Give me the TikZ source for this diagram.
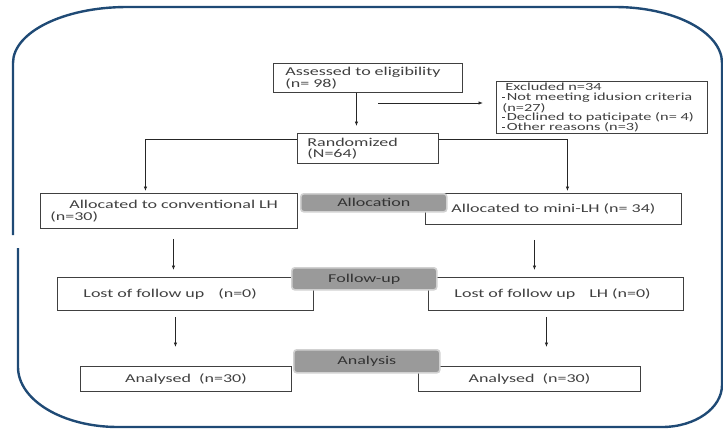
\documentclass[tikz,border=0pt]{standalone}
\usepackage{fontspec}
\usetikzlibrary{arrows.meta,positioning}
\newfontfamily\flowfont{Carlito}[FakeStretch=1.5]
\definecolor{frameblue}{HTML}{1F4A75}
\definecolor{boxgrey}{HTML}{404040}
\definecolor{taggrey}{HTML}{9A9A9A}
\newcommand{\exbul}{\raisebox{0.45ex}{\rule{2.5pt}{1.2pt}}\,}

\begin{document}
\begin{tikzpicture}[
    x=1pt, y=-1pt,
    flowbox/.style={draw=boxgrey, line width=0.9pt, anchor=north west, font=\flowfont\fontsize{12}{11.5}\selectfont, text=black!75, align=left, inner ysep=0pt},
    tagbox/.style={draw=black!18, line width=1.6pt, fill=taggrey, rounded corners=3pt, anchor=north west, font=\flowfont\fontsize{12}{12}\selectfont, text=black!80, inner sep=0pt},
    arrow/.style={-{Latex[length=4.5pt,width=3.5pt]}, line width=0.8pt, black!85},
    frame/.style={draw=frameblue, line width=2.4pt}
    ]
  \useasboundingbox (0,0) rectangle (723,429);
  \draw[frame] (13,235) -- (13,63) arc[start angle=180, end angle=270, x radius=114, y radius=56]
    -- (615,7) arc[start angle=270, end angle=360, x radius=107, y radius=56]
    -- (722,385) arc[start angle=0, end angle=90, x radius=60, y radius=42]
    -- (118,427) arc[start angle=90, end angle=180, x radius=100, y radius=60] -- (18,248);

  \node[flowbox, minimum width=189pt, minimum height=29pt, text width=165pt, inner xsep=12pt] (assess) at (273,63) {Assessed to eligibility\\(n= 98)};
  \node[flowbox, font=\flowfont\fontsize{10.9}{9.8}\selectfont, minimum width=211pt, minimum height=52pt, text width=199pt, inner xsep=6pt] (excl) at (496,81)
    {\hspace*{3pt}Excluded n=34\\\exbul Not meeting idusion criteria\\(n=27)\\\exbul Declined to paticipate (n= 4)\\\exbul Other reasons (n=3)};
  \node[flowbox, minimum width=141pt, minimum height=30pt, text width=121pt, inner xsep=10pt] (rand) at (297,133) {Randomized\\(N=64)};
  \node[flowbox, minimum width=257pt, minimum height=35pt, text width=237pt, inner xsep=10pt] (allocL) at (40,193) {\hspace*{19pt}Allocated to conventional LH\\(n=30)};
  \node[flowbox, align=center, minimum width=256pt, minimum height=31pt] (allocR) at (425,193) {Allocated to mini-LH (n= 34)};
  \node[flowbox, minimum width=256pt, minimum height=33pt, text width=204pt, inner xsep=26pt] (lostL) at (57,277) {Lost of follow up\hspace{10pt} (n=0)};
  \node[flowbox, minimum width=255pt, minimum height=33pt, text width=203pt, inner xsep=26pt] (lostR) at (428,277) {Lost of follow up\hspace{10pt} LH (n=0)};
  \node[flowbox, align=center, minimum width=211pt, minimum height=25pt] (anaL) at (80,366) {Analysed\hspace{4pt} (n=30)};
  \node[flowbox, align=center, minimum width=222pt, minimum height=25pt] (anaR) at (418,366) {Analysed\hspace{4pt} (n=30)};

  % arrows
  \coordinate (exstart) at (378,103);
  \draw[arrow] ([xshift=-11.5pt]assess.south) -- ([xshift=-11.5pt,yshift=7pt]rand.north);
  \draw[arrow, shorten >=13pt] (exstart) -- (excl.west |- exstart);
  \draw[arrow] ([yshift=9pt]rand.west) -| ([xshift=-23.5pt,yshift=2pt]allocL.north);
  \draw[arrow] ([yshift=9pt]rand.east) -| ([xshift=14pt,yshift=2pt]allocR.north);
  \draw[arrow, shorten <=10pt, shorten >=7pt] ([xshift=4.5pt]allocL.south) -- ([xshift=4.5pt]allocL.south |- lostL.north);
  \draw[arrow, shorten <=15pt, shorten >=7pt] ([xshift=-19pt]allocR.south) -- ([xshift=-19pt]allocR.south |- lostR.north);
  \draw[arrow, shorten <=6pt, shorten >=19pt] ([xshift=-10pt]lostL.south) -- ([xshift=-10pt]lostL.south |- anaL.north);
  \draw[arrow, shorten <=6pt, shorten >=19pt] ([xshift=-9.5pt]lostR.south) -- ([xshift=-9.5pt]lostR.south |- anaR.north);

  % stage tags
  \node[tagbox, minimum width=146pt, minimum height=18pt] (allocTag) at (300,193) {Allocation};
  \node[tagbox, minimum width=145pt, minimum height=22pt] (followTag) at (291,267) {Follow-up};
  \node[tagbox, minimum width=146pt, minimum height=23pt] (anaTag) at (293,349) {Analysis};
\end{tikzpicture}
\end{document}
